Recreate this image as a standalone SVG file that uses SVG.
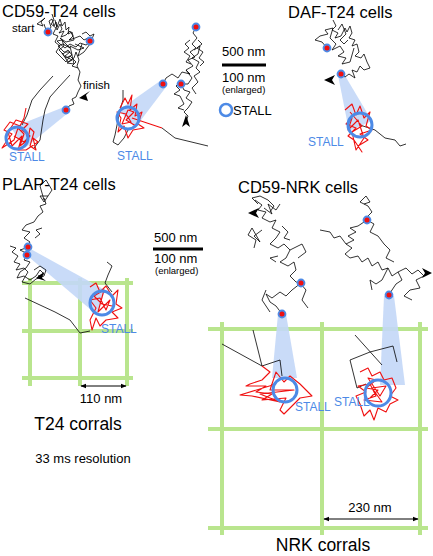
<svg xmlns="http://www.w3.org/2000/svg" xmlns:xlink="http://www.w3.org/1999/xlink" width="433" height="556" viewBox="0 0 433 556">
<style>
text{font-family:"Liberation Sans",Arial,sans-serif;fill:#000}
.title{font-size:16.5px}
.lab{font-size:12px}
.num{font-size:13px}
.small{font-size:9.5px}
.stall{font-size:12px;fill:#4d8ae6}
.tr{fill:none;stroke:#000;stroke-width:0.8;stroke-linejoin:round}
.rd{fill:none;stroke:#f01010;stroke-width:1.1;stroke-linejoin:round}
.grid{stroke:#b9e58e;stroke-width:4;fill:none}
.wedge{fill:#c3d7f7;opacity:0.9}
.ring{fill:none;stroke:#4d8ae6;stroke-width:3}
.head{fill:#000}
.open{fill:#fff;stroke:#000;stroke-width:0.8}
.bar{stroke:#000;stroke-width:3}
.dim{stroke:#000;stroke-width:1;marker-start:url(#ah);marker-end:url(#ah)}
</style>
<defs>
<g id="dot"><circle r="4.4" fill="#4d8ae6"/><circle r="2.5" fill="#f01010"/></g>
<marker id="ah" viewBox="0 0 10 10" refX="9" refY="5" markerWidth="6" markerHeight="6" orient="auto-start-reverse"><path d="M0,1 L10,5 L0,9 Z" fill="#000"/></marker>
</defs>
<rect width="433" height="556" fill="#fff"/>

<g id="grids">
<path class="grid" d="M22,283 H133 M22,331 H133 M22,378 H133 M30,278 V386 M80,278 V386 M127,278 V386"/>
<path class="grid" d="M208,329 H428 M208,429 H428 M208,528 H428 M222,322 V535 M322,322 V535 M420,322 V535"/>
</g>

<g id="wedges">
<polygon class="wedge" points="64,107 68,113 25,148 11,128"/>
<polygon class="wedge" points="160,81 166,87 135,128 119,110"/>
<polygon class="wedge" points="338,75 344,74 372,121 349,131"/>
<polygon class="wedge" points="27,247 30,258 97,315 105,290"/>
<polygon class="wedge" points="278,314 286,314 297,378 272,378"/>
<polygon class="wedge" points="384,296 394,296 405,385 380,385"/>
</g>

<g id="panel-cd59-t24">
<text class="title" x="2" y="17">CD59-T24 cells</text>
<text class="lab" x="12" y="32" style="font-size:11.5px">start</text>
<text class="lab" x="83" y="89" style="font-size:11.5px">finish</text>
<polygon class="open" points="37,24 45,18 41,22 43,26"/>
<path class="tr" d="M44,24 L46,30 L48,32 L51,27 L49,21 L52,19 L54,26 L56,22 L57,30 L60,24 L62,29 L59,33 L64,31 L61,37 L66,35 L70,31 L73,36 L69,40 L75,38 L80,36 L84,40 L88,38 L91,42 L86,45 L80,43 L76,47 L70,44 L65,48 L60,44 L57,41 L62,40 L64,46 L59,50 L63,54 L68,50 L72,55 L66,58 L62,53 L68,62 L74,58 L76,52 L79,60 L77,66 L80,72 L78,80 L81,86 L78,92 L76,97 L72,99 L74,104 L69,106 L66,110"/>
<path class="tr" d="M55,20 L57,27 L60,19 L62,26 L65,22 L66,30 L69,27 L68,34 L72,32 L74,40 L66,42 L60,38 L70,48 L63,44 L58,46 L64,52 L70,52 L65,56 L72,60 L67,63 L74,64 L70,46 L78,50 L84,48 L75,44 M52,14 L54,20 L51,24 L56,28 L53,34 L58,36 L55,42 L60,46 L56,52 L62,58 L66,62 L70,56 L76,62 L72,66 L78,68 M82,34 L86,32 L90,36 L94,34 L90,44 L84,52 L78,56 L82,44"/>
<path class="tr" d="M53,76 L40,90 L32,100 L27,115 L22,125 M70,75 L58,88 L50,97 L45,110 L43,120 L40,140 L34,148"/>
<path class="rd" d="M26,108 L24,118 L20,126 L10,122 L4,130 L12,134 L6,142 L2,148 L14,140 L18,128 L24,134 L20,146 L28,140 L30,128 L34,132 L30,146 L36,150 L33,138 L38,142 L26,150 L18,150 L22,136 L12,146 L8,132 L16,120 L28,124 L22,130 L30,136 L24,142 L14,136"/>
<polygon class="head" points="79,98 90,91 86,95 88,101"/>
<use xlink:href="#dot" x="48" y="32"/>
<use xlink:href="#dot" x="90" y="41"/>
<use xlink:href="#dot" x="66" y="110"/>
<circle class="ring" cx="17" cy="138" r="11"/>
<text class="stall" x="9" y="161">STALL</text>

<path class="tr" d="M196,27 L193,33 L197,38 L192,44 L196,48 L190,52 L195,57 L188,60 L193,66 L186,70 L190,74 L182,72 L178,78 L172,74 L166,78 L163,84"/>
<path class="tr" d="M186,70 L192,78 L188,84 L181,84 L184,90 L190,92 L186,98 L192,102 L188,108 L184,112 L188,116 L186,122 M194,50 L200,46 L198,54 L192,58 L199,62 L196,68 L200,72 L194,76 L198,82 L192,88 L196,94 M190,40 L185,44 L189,48 L184,52 L190,56 L186,62 L191,64 M198,40 L202,44 L197,48 L203,52 L199,58 L204,62 L200,66 M182,80 L176,86 L180,90 L174,94 L180,96 L184,104 L178,108 L184,110"/>
<path class="tr" d="M123,90 L123,100 L120,110 L117,125 L115,135 L113,142 L118,145 L124,138 L128,130 M162,128 L175,138 L208,146"/>
<path class="rd" d="M120,108 L125,98 L128,104 L132,95 L130,110 L137,104 L135,116 L142,112 L138,124 L144,128 L133,130 L128,138 L124,126 L118,132 L121,118 L117,112 L126,114 L131,122 L122,124 L128,110 L134,112 L126,120 L136,126 M132,118 L162,128"/>
<polygon class="head" points="186,115 182,127 186,124 190,127"/>
<use xlink:href="#dot" x="196" y="27"/>
<use xlink:href="#dot" x="163" y="84"/>
<use xlink:href="#dot" x="181" y="84"/>
<circle class="ring" cx="128" cy="118" r="11"/>
<text class="stall" x="117" y="160">STALL</text>
</g>

<g id="legend-top">
<text class="num" x="222" y="56">500 nm</text>
<line class="bar" x1="222" y1="65" x2="266" y2="65"/>
<text class="num" x="222" y="82">100 nm</text>
<text class="small" x="222" y="93">(enlarged)</text>
<circle class="ring" cx="226" cy="110" r="6" style="stroke-width:2.5"/>
<text x="233" y="115" style="font-size:13px">STALL</text>
</g>

<g id="panel-daf-t24">
<text class="title" x="288" y="18">DAF-T24 cells</text>
<path class="tr" d="M333,20 L336,26 L332,30 L338,33 L335,38 L341,36 L345,28 L347,32 L350,26 L352,33 L349,38 L355,40 L352,46 L357,44 L359,52 L355,56 L361,58 L364,54 L367,62 L370,68 L364,70 L360,66 L357,72 L352,70 L355,78 L349,74 L345,77 L341,74"/>
<path class="tr" d="M327,48 L322,42 L315,40 L320,36 L328,34 L325,30 L333,28 L330,38 L336,44 L332,50 L340,46 L344,52 L338,56 L346,58 L342,64 L350,62 L354,48 M338,30 L342,24 L346,34 L340,40 L344,44 L348,40"/>
<path class="tr" d="M360,125 L375,130 L385,138 L395,140 L400,146 L406,144"/>
<path class="rd" d="M345,110 L352,104 L356,115 L360,106 L364,118 L370,112 L366,126 L372,130 L360,134 L368,140 L358,146 L362,152 L354,140 L348,136 L356,128 L346,124 L352,118 L348,130 L358,120 L364,138 L356,150 L352,132 L362,126 L350,112"/>
<polygon class="head" points="324,80 335,75 332,80 335,85"/>
<use xlink:href="#dot" x="327" y="48"/>
<use xlink:href="#dot" x="341" y="74"/>
<circle class="ring" cx="360" cy="125" r="12"/>
<text class="stall" x="308" y="146">STALL</text>
</g>

<g id="panel-plap-t24">
<text class="title" x="2" y="190">PLAP-T24 cells</text>
<polygon class="open" points="40,196 48,196 44,202"/>
<path class="tr" d="M44,198 L46,204 L40,206 L43,212 L38,216 L34,222 L26,225 L22,230 L30,232 L24,238 L30,242 L26,248 L20,250 L28,254 L24,260 L30,262 L26,268 L20,272 L17,278 L24,276 L30,280 L36,276 L40,270 L44,274 L38,276 L42,278"/>
<path class="tr" d="M10,246 L16,248 L12,252 L18,256 L14,262 L20,264 L16,270 L24,268 L28,272 L22,282 L30,284 L36,279 L44,276 L46,270 L40,266 L34,270 M35,238 L40,234 L36,230 L42,228 M44,200 L40,186 L46,180 L52,190 L48,196"/>
<path class="tr" d="M25,298 L40,305 L55,312 L70,320 L80,333 L90,331 M107,262 L112,266 L108,275 L105,283 L112,292"/>
<path class="rd" d="M90,287 L96,283 L100,292 L106,286 L112,296 L118,290 L116,304 L122,308 L112,312 L118,318 L106,320 L100,326 L96,318 L92,330 L90,320 L96,308 L90,300 L100,298 L106,310 L110,300 L98,312 L104,290 L94,296 L102,304 L112,306"/>
<polygon class="head" points="36,278 44,272 42,278 46,281"/>
<use xlink:href="#dot" x="28" y="247"/>
<use xlink:href="#dot" x="27" y="255"/>
<circle class="ring" cx="102" cy="303" r="12"/>
<text class="stall" x="101" y="333">STALL</text>
<line class="dim" x1="81" y1="386" x2="126" y2="386"/>
<text class="num" x="101" y="403" text-anchor="middle">110 nm</text>
<text class="title" x="78" y="430" text-anchor="middle" style="font-size:17.5px">T24 corrals</text>
<text x="83" y="463" text-anchor="middle" style="font-size:13px">33 ms resolution</text>
</g>

<g id="legend-mid">
<text class="num" x="154" y="242">500 nm</text>
<line class="bar" x1="153" y1="249" x2="203" y2="249"/>
<text class="num" x="154" y="263">100 nm</text>
<text class="small" x="155" y="274">(enlarged)</text>
</g>

<g id="panel-cd59-nrk">
<text class="title" x="238" y="193">CD59-NRK cells</text>
<path class="tr" d="M255,200 L262,205 L258,210 L266,212 L262,218 L270,222 L276,220 L272,228 L280,232 L276,238 L270,244 L278,248 L284,244 L290,250 L286,258 L280,262 L288,266 L294,262 L296,270 L290,276 L296,282 L301,283 L292,290 L286,296 L280,292 L272,298 L266,294 L270,302 L276,306 L282,314"/>
<path class="tr" d="M262,230 L254,236 L260,242 L252,228 L248,235 L256,240 L254,248 M258,204 L252,198 L260,196 L268,200 L274,206 L270,212 M300,283 L306,290 L302,300 L308,308 M276,262 L270,258 L278,256 M266,290 L262,300 L270,312 M290,250 L302,244 L306,252 L298,258 M264,208 L272,214 L268,204 L276,210 L280,204 M282,226 L288,232 L284,238 L290,240"/>
<path class="tr" d="M222,344 L262,366 L280,360 L282,376 M253,330 L262,366"/>
<path class="rd" d="M262,366 L270,372 L262,380 L250,384 L246,386 L266,386 L256,392 L272,394 L262,400 L286,398 L280,410 L284,414 L300,398 L312,396 L300,384 L290,376 L284,382 L276,372 L270,390 L294,390 L260,394 L280,402 L252,396 L240,395 L276,384"/>
<polygon class="head" points="248,213 259,208 256,213 259,218"/>
<use xlink:href="#dot" x="301" y="283"/>
<use xlink:href="#dot" x="282" y="314"/>
<circle class="ring" cx="285" cy="390" r="12"/>
<text class="stall" x="295" y="411">STALL</text>

<path class="tr" d="M360,202 L368,206 L372,212 L366,218 L367,220 L358,226 L350,228 L356,232 L348,236 L354,240 L346,244 L352,248 L345,254 L350,258 L358,256 L362,262 L368,258 L372,266 L378,262 L382,270 L388,268 L392,276 L398,272 L402,280 L396,284 L392,290 L389,295"/>
<path class="tr" d="M320,230 L330,232 L334,238 L340,236 L346,244 M360,202 L366,196 L370,202 L364,204 M367,220 L374,224 L370,232 L378,236 L384,244 L390,250 L386,258 L394,262 M398,272 L406,268 L412,274 L418,270 L424,276 L416,280 L420,288 L410,290 L404,296 L412,300 M388,268 L382,280 L376,284 L370,280 L372,290"/>
<path class="tr" d="M355,335 L382,365 M350,360 L370,352 L393,346 L397,362 M350,360 L357,388 L366,384"/>
<path class="rd" d="M360,372 L368,368 L372,376 L380,372 L384,380 L392,378 L396,388 L390,396 L398,400 L390,404 L386,412 L378,408 L374,420 L370,410 L364,416 L360,404 L356,396 L366,392 L358,386 L370,384 L376,396 L364,400 L382,402 L372,388 L386,386 L380,396 L368,378 L376,380 L366,388 L378,390 L370,398"/>
<polygon class="head" points="432,273 422,268 425,273 422,278"/>
<use xlink:href="#dot" x="367" y="220"/>
<use xlink:href="#dot" x="389" y="295"/>
<circle class="ring" cx="378" cy="393" r="13"/>
<text class="stall" x="334" y="406">STALL</text>

<line class="dim" x1="324" y1="519" x2="418" y2="519"/>
<text class="num" x="370" y="512" text-anchor="middle">230 nm</text>
<text class="title" x="323" y="551" text-anchor="middle" style="font-size:17.5px">NRK corrals</text>
</g>
</svg>
